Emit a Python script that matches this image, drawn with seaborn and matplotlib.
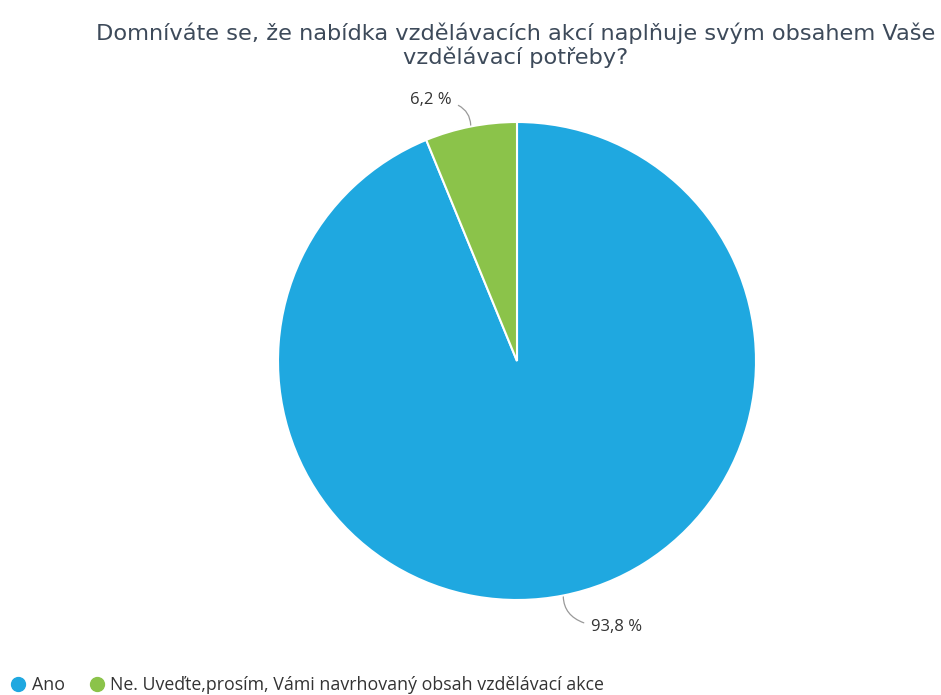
import numpy as np
import matplotlib
matplotlib.use("Agg")
import matplotlib.pyplot as plt
from matplotlib.lines import Line2D
import seaborn as sns

categories = ["Ano", "Ne. Uveďte,prosím, Vámi navrhovaný obsah vzdělávací akce"]
values = [93.8, 6.2]
value_labels = ["93,8 %", "6,2 %"]
colors = ["#1fa8e0", "#8bc34a"]
title = "Domníváte se, že nabídka vzdělávacích akcí naplňuje svým obsahem Vaše\nvzdělávací potřeby?"

sns.set_theme(style="white")
plt.rcParams['font.family'] = ['DejaVu Sans']

fig = plt.figure(figsize=(9.41, 6.95), dpi=100)
ax = fig.add_axes([278/941, 95/695, 478/941, 478/695])

wedges, _ = ax.pie(values, colors=colors, startangle=90, counterclock=False,
                   wedgeprops=dict(edgecolor="white", linewidth=1.5), radius=1.0)
ax.set_xlim(-1, 1)
ax.set_ylim(-1, 1)
ax.set_aspect("equal")
ax.axis("off")

# labels with leader lines at wedge mid-angles
offsets = [(20, -23), (-14, 19)]
has = ["left", "right"]
for w, lab, off, ha in zip(wedges, value_labels, offsets, has):
    ang = np.deg2rad((w.theta1 + w.theta2) / 2)
    x, y = np.cos(ang), np.sin(ang)
    ax.annotate(lab, xy=(x, y), xytext=off, textcoords="offset points",
                ha=ha, va="center", fontsize=12, color="#333333",
                family="Open Sans",
                arrowprops=dict(arrowstyle="-", color="#999999", lw=0.9,
                                shrinkA=3, shrinkB=1,
                                connectionstyle="angle3,angleA=0,angleB=90"))

fig.text(0.548, 0.935, title, ha="center", va="center", fontsize=16.2,
         color="#3d4a5a", linespacing=1.1)

handles = [Line2D([0], [0], marker="o", linestyle="none", markersize=10,
                  markerfacecolor=c, markeredgecolor=c) for c in colors]
fig.legend(handles, categories, loc="lower left", bbox_to_anchor=(-0.009, -0.022),
           ncol=2, frameon=False, handletextpad=0.15, columnspacing=1.2,
           handlelength=1.2,
           prop=dict(family="Open Sans", size=12.8), labelcolor="#333333")

fig.savefig("out.png", dpi=100, facecolor="white")
